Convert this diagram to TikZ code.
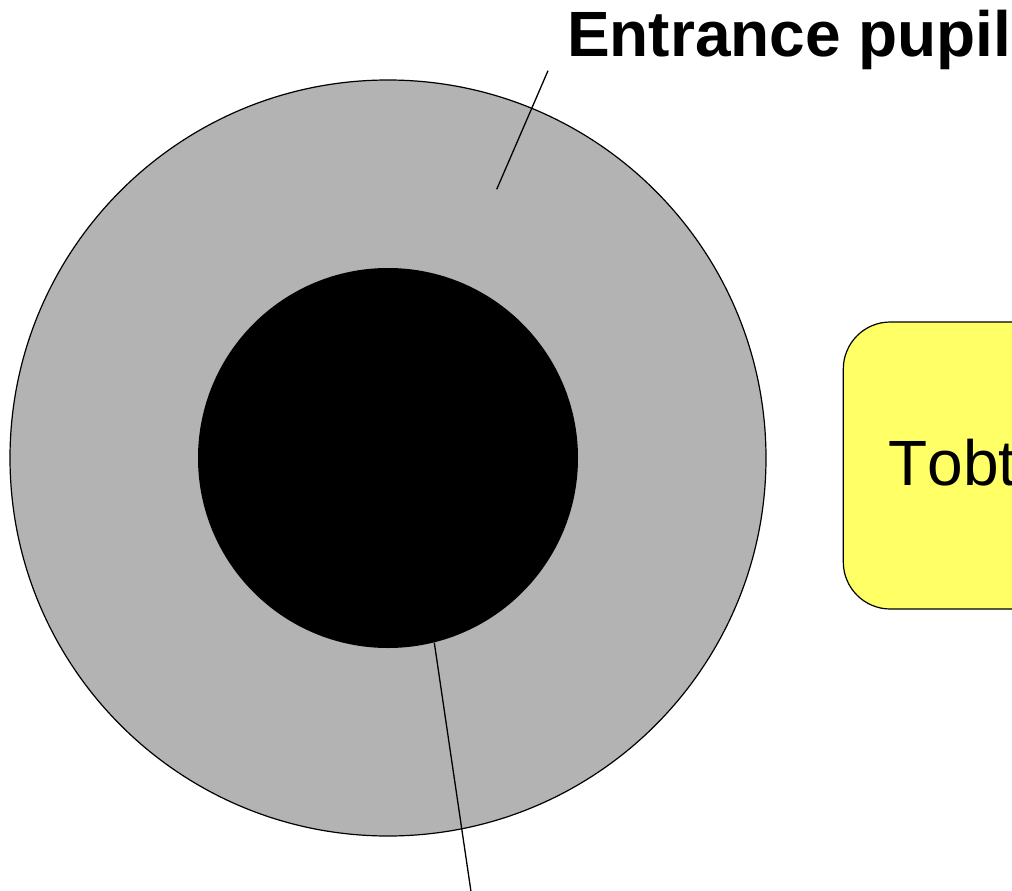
\documentclass[tikz,border=0pt]{standalone}
\usepackage{fontspec}
\setmainfont{Liberation Sans}
\begin{document}
\begin{tikzpicture}[x=1pt,y=-1pt,
  outline/.style={draw=black, line width=1.2pt},
  leader/.style={draw=black, line width=1.3pt},
  lbl/.style={inner sep=0pt, outer sep=0pt, anchor=base west}]
\definecolor{pupilgray}{HTML}{B3B3B3}
\definecolor{boxyellow}{HTML}{FFFF66}
\useasboundingbox (0,0) rectangle (1012,891);
\clip (0,0) rectangle (1012,891);
% outer pupil disc and inner stop
\node[circle, outline, fill=pupilgray, minimum size=756pt, inner sep=0pt] (pupil) at (388,458) {};
\node[circle, fill=black, minimum size=380pt, inner sep=0pt] (stop) at (388,458) {};
% yellow box (cut by right edge)
\draw[line width=1.2pt, fill=boxyellow, rounded corners=47pt] (843.3,322) rectangle (1120,609);
\node[lbl] (tobt) at (888.5,485) {\fontsize{64}{70}\selectfont\addfontfeatures{Kerning=Off}Tobt};
% title label
\node[lbl] (title) at (567,57) {\fontsize{64}{70}\selectfont\bfseries\addfontfeatures{Kerning=Off}Entrance pupil};
% leaders
\coordinate (t1) at (548,70.7);
\coordinate (t2) at (496.7,189.3);
\draw[leader] (t1) -- (t2);
\coordinate (b1) at (434.3,642.7);
\coordinate (b2) at (471.5,895);
\draw[leader] (b1) -- (b2);
\end{tikzpicture}
\end{document}
